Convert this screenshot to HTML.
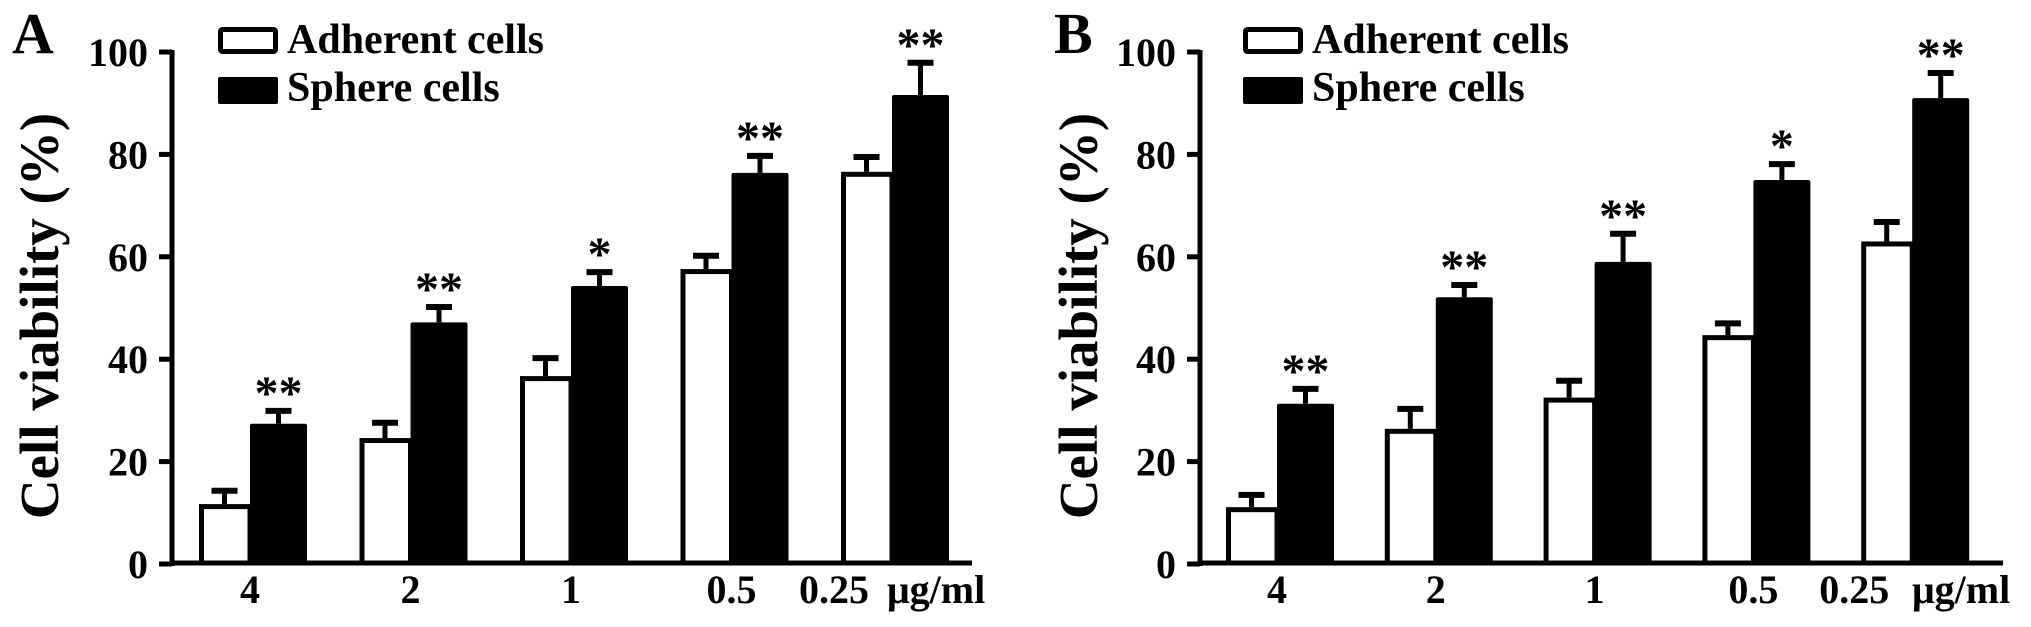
<!DOCTYPE html>
<html><head><meta charset="utf-8"><style>
html,body{margin:0;padding:0;background:#fff;}
svg{display:block;}
text{font-family:"Liberation Serif","DejaVu Serif",serif;font-weight:bold;fill:#000;}
</style></head>
<body>
<svg id="fig" width="2031" height="627" viewBox="0 0 2031 627" xmlns="http://www.w3.org/2000/svg"></svg>
<script>
const categories = ["4", "2", "1", "0.5", "0.25"];
const yTicks = [0, 20, 40, 60, 80, 100];
const aAdherent = [11.7, 24.6, 36.7, 57.6, 76.6];
const aAdherentErr = [2.6, 3.0, 3.5, 2.6, 2.9];
const aSphere = [27.4, 47.2, 54.3, 76.4, 91.6];
const aSphereErr = [2.5, 3.0, 2.7, 3.3, 6.3];
const aStars = ["**", "**", "*", "**", "**"];
const bAdherent = [11.1, 26.4, 32.5, 44.7, 63.0];
const bAdherentErr = [2.4, 3.9, 3.3, 2.3, 3.8];
const bSphere = [31.3, 52.1, 59.0, 75.0, 91.0];
const bSphereErr = [2.9, 2.4, 5.5, 3.1, 4.9];
const bStars = ["**", "**", "**", "*", "**"];

const NS = "http://www.w3.org/2000/svg";
const svg = document.getElementById("fig");
function mk(tag, attrs, parent) {
  const e = document.createElementNS(NS, tag);
  for (const k in attrs) e.setAttribute(k, attrs[k]);
  (parent || svg).appendChild(e);
  return e;
}

function panel(cfg) {
  const g = mk("g", {});
  
  
  const y0 = 564, pxPer = 5.12;
  const yScale = v => y0 - v * pxPer;
  const xWhite = i => cfg.firstX + cfg.step * i;
  const ww = cfg.whiteW, bw = cfg.blackW;

  const ya = mk("line", {x1: cfg.axisX, y1: yScale(100) - 2, x2: cfg.axisX, y2: 566, stroke: "#000", "stroke-width": 5}, g);
  
  
  yTicks.forEach(t => {
    const tk = mk("line", {x1: cfg.axisX - 13, y1: yScale(t), x2: cfg.axisX, y2: yScale(t), stroke: "#000", "stroke-width": 5}, g);
    
    
    const tl = mk("text", {x: cfg.axisX - 24, y: yScale(t) + 14, "font-size": 40, "text-anchor": "end"}, g);
    tl.textContent = t;
    
    
  });
  const xa = mk("line", {x1: cfg.axisX - 2, y1: 563, x2: cfg.axisEnd, y2: 563, stroke: "#000", "stroke-width": 5}, g);
  
  

  categories.forEach((c, i) => {
    const xw = xWhite(i), xb = xw + ww;
    const errs = [[xw + ww / 2, cfg.adh[i], cfg.adhErr[i]], [xb + bw / 2, cfg.sph[i], cfg.sphErr[i]]];
    errs.forEach(([cx, v, e], k) => {
      const s = mk("line", {x1: cx, y1: yScale(v), x2: cx, y2: yScale(v + e), stroke: "#000", "stroke-width": 5}, g);
      
      
      const cp = mk("line", {x1: cx - 13, y1: yScale(v + e), x2: cx + 13, y2: yScale(v + e), stroke: "#000", "stroke-width": 6}, g);
      
      
    });
    const rw = mk("rect", {x: xw + 2.5, y: yScale(cfg.adh[i]) + 2.5, width: ww - 2.5, height: 563 - yScale(cfg.adh[i]) - 2.5, fill: "#fff", stroke: "#000", "stroke-width": 5}, g);
    
    
    const rb = mk("rect", {x: xb, y: yScale(cfg.sph[i]), width: bw, height: 563 - yScale(cfg.sph[i]), fill: "#000", rx: 2}, g);
    
    
    const st = mk("text", {x: xb + bw / 2, y: yScale(cfg.sph[i] + cfg.sphErr[i]) - 2, "font-size": 48, "font-weight": "normal", "text-anchor": "middle"}, g);
    st.textContent = cfg.stars[i];
    
    
    const lx = (i === categories.length - 1) ? xb - 58 : xb;
    const xl = mk("text", {x: lx, y: 603, "font-size": 40, "text-anchor": "middle"}, g);
    xl.textContent = c;
    
    
  });
  const unit = mk("text", {x: cfg.unitX, y: 603, "font-size": 40}, g);
  unit.textContent = "μg/ml";
  
  

  const yt = mk("text", {x: 0, y: 0, "font-size": 55, "text-anchor": "middle", transform: `translate(${cfg.titleX},316) rotate(-90)`}, g);
  yt.textContent = "Cell viability (%)";
  
  

  const lt = mk("text", {x: cfg.letterX, y: 53, "font-size": 58}, g);
  lt.textContent = cfg.letter;
  
  

  const lg = mk("g", {}, g);
  
  
  const lw = mk("rect", {x: cfg.legX + 2.5, y: 29.5, width: 55, height: 22, fill: "#fff", stroke: "#000", "stroke-width": 5, rx: 2}, lg);
  
  
  const l1 = mk("text", {x: cfg.legX + 69, y: 53, "font-size": 42}, lg);
  l1.textContent = "Adherent cells";
  
  
  const lb = mk("rect", {x: cfg.legX, y: 77, width: 60, height: 27, fill: "#000", rx: 2}, lg);
  
  
  const l2 = mk("text", {x: cfg.legX + 69, y: 101, "font-size": 42}, lg);
  l2.textContent = "Sphere cells";
  
  
}

panel({name: "panel-a", letter: "A", letterX: 12, axisX: 172, axisEnd: 972, firstX: 199, step: 160.5, whiteW: 51, blackW: 57,
  adh: aAdherent, adhErr: aAdherentErr, sph: aSphere, sphErr: aSphereErr, stars: aStars,
  unitX: 887, titleX: 58, legX: 218});
panel({name: "panel-b", letter: "B", letterX: 1054, axisX: 1200, axisEnd: 2003, firstX: 1226, step: 158.8, whiteW: 51, blackW: 57,
  adh: bAdherent, adhErr: bAdherentErr, sph: bSphere, sphErr: bSphereErr, stars: bStars,
  unitX: 1912, titleX: 1097, legX: 1243});
</script>
</body></html>
